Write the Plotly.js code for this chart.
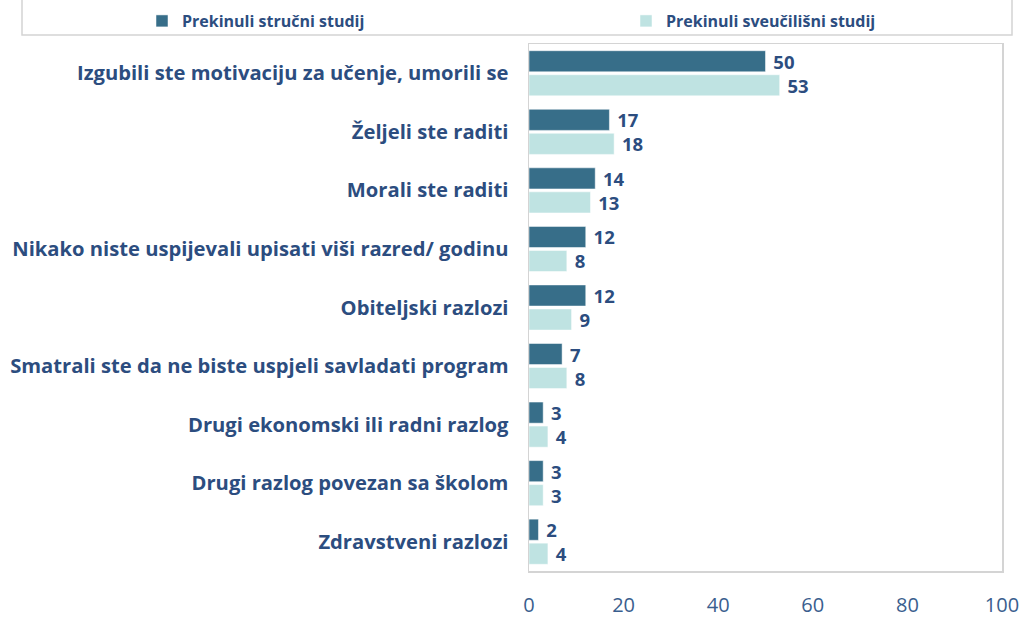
<!DOCTYPE html>
<html>
<head>
<meta charset="utf-8">
<script src="https://cdn.plot.ly/plotly-3.0.1.min.js"></script>
<style>html,body{margin:0;padding:0;background:#fff;}#chart{width:1033px;height:619px;}</style>
</head>
<body>
<div id="chart"></div>
<script>
const categories = [
  "Izgubili ste motivaciju za učenje, umorili se",
  "Željeli ste raditi",
  "Morali ste raditi",
  "Nikako niste uspijevali upisati viši razred/ godinu",
  "Obiteljski razlozi",
  "Smatrali ste da ne biste uspjeli savladati program",
  "Drugi ekonomski ili radni razlog",
  "Drugi razlog povezan sa školom",
  "Zdravstveni razlozi"
];
const strucni = [50, 17, 14, 12, 12, 7, 3, 3, 2];
const sveucilisni = [53, 18, 13, 8, 9, 8, 4, 3, 4];
const seriesNames = ["Prekinuli stručni studij", "Prekinuli sveučilišni studij"];
const xTicks = [0, 20, 40, 60, 80, 100];

const navy = "#2C4D7F";
const fontFam = "'Open Sans', 'Noto Sans', sans-serif";

const traces = [
  {
    type: "bar", orientation: "h", name: seriesNames[0], legend: "legend",
    y: categories, x: strucni,
    texttemplate: " %{x}", textposition: "outside", cliponaxis: false, constraintext: "none",
    textfont: {family: fontFam, size: 18.5, color: navy, weight: 700},
    marker: {color: "#376E89", line: {color: "#ffffff", width: 0.5}},
    hoverinfo: "x+y"
  },
  {
    type: "bar", orientation: "h", name: seriesNames[1], legend: "legend2",
    y: categories, x: sveucilisni,
    texttemplate: " %{x}", textposition: "outside", cliponaxis: false, constraintext: "none",
    textfont: {family: fontFam, size: 18.5, color: navy, weight: 700},
    marker: {color: "#BFE3E2", line: {color: "#ffffff", width: 0.5}},
    hoverinfo: "x+y"
  }
];

const legendFont = {family: fontFam, size: 16, color: navy, weight: 700};
const layout = {
  width: 1033, height: 619,
  margin: {l: 529, r: 31, t: 44, b: 48, pad: 0, autoexpand: false},
  paper_bgcolor: "#ffffff", plot_bgcolor: "#ffffff",
  barmode: "group", bargap: 0.18, bargroupgap: 0.12,
  showlegend: true,
  legend: {
    orientation: "h", x: 142/1033, xref: "container", xanchor: "left",
    y: 1 - 21/619, yref: "container", yanchor: "middle",
    font: legendFont, itemwidth: 30, bgcolor: "rgba(0,0,0,0)"
  },
  legend2: {
    orientation: "h", x: 626/1033, xref: "container", xanchor: "left",
    y: 1 - 21/619, yref: "container", yanchor: "middle",
    font: legendFont, itemwidth: 30, bgcolor: "rgba(0,0,0,0)"
  },
  font: {family: fontFam, color: navy},
  xaxis: {
    range: [0, 100], tickvals: xTicks, ticktext: xTicks.map(String),
    showgrid: false, zeroline: false,
    showline: true, mirror: true, linecolor: "#d4d4d4", linewidth: 1.5,
    ticks: "outside", ticklen: 15, tickcolor: "rgba(0,0,0,0)",
    tickfont: {family: fontFam, size: 20, color: "#3A5E8E"},
    fixedrange: true
  },
  yaxis: {
    autorange: "reversed", type: "category",
    showgrid: false, zeroline: false,
    showline: true, mirror: true, linecolor: "#d4d4d4", linewidth: 1.5,
    ticks: "outside", ticklen: 15, tickcolor: "rgba(0,0,0,0)",
    tickfont: {family: fontFam, size: 20.2, color: navy, weight: 700},
    fixedrange: true
  },
  shapes: [
    {type: "rect", xref: "paper", yref: "paper",
     x0: -507/473, x1: (1012-529)/473, y0: (571-35)/527, y1: (571+10)/527,
     line: {color: "#d4d4d4", width: 1.5}, fillcolor: "rgba(0,0,0,0)", layer: "below"}
  ]
};

Plotly.newPlot("chart", traces, layout, {displayModeBar: false, staticPlot: true});
</script>
</body>
</html>
